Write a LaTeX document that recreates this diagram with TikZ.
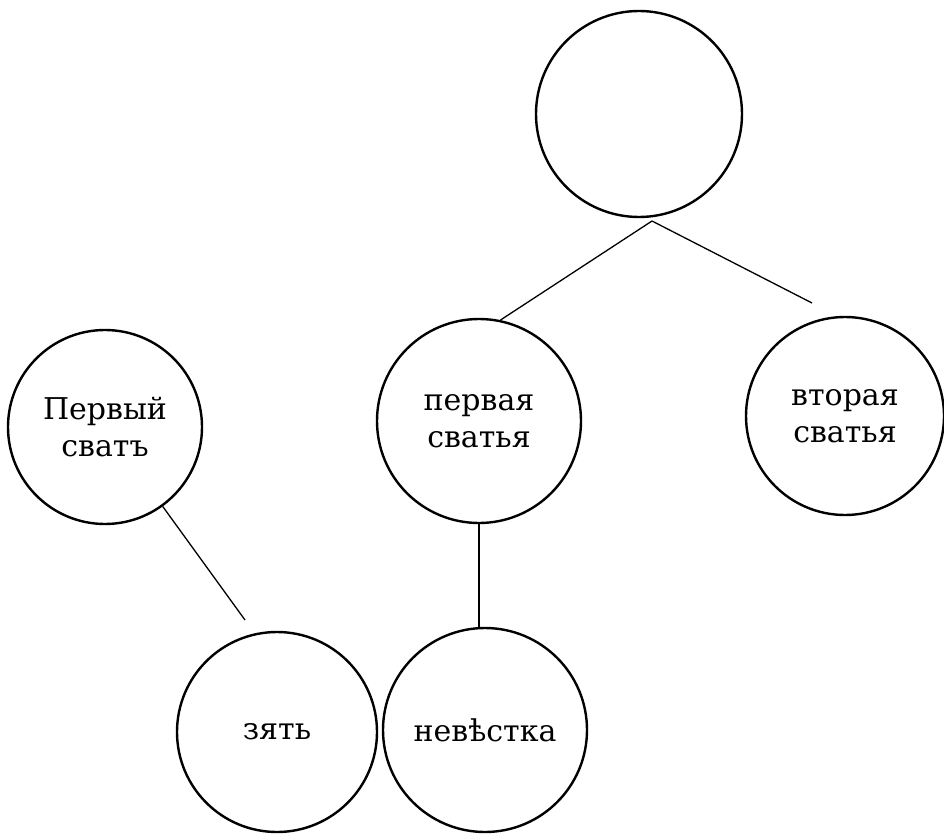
\documentclass[tikz,border=0pt]{standalone}
\usepackage{fontspec}
\setmainfont{DejaVu Serif}
\usetikzlibrary{calc}
\begin{document}
\begin{tikzpicture}[x=1pt,y=-1pt,
  person/.style={circle,draw,line width=2.4pt,minimum size=#1,inner sep=0pt,align=center,
    font=\fontsize{30}{37}\selectfont},
  link/.style={line width=1.3pt}]
\useasboundingbox[fill=white] (0,0) rectangle (944,834);
\node[person=206] (top) at (639,114) {};
\node[person=194] (pervyi) at (105,427) {Первый\\сватъ};
\node[person=204] (perv) at (479,421) {первая\\сватья};
\node[person=198] (vtor) at (845,416) {вторая\\сватья};
\node[person=200] (zyat) at (277,732) {зять};
\node[person=204] (nev) at (485,730) {невѣстка};
\coordinate (apex) at (652,221);
\coordinate (vtorend) at (812,303);
\coordinate (zyatend) at (245,620);
\draw[link] (apex) -- (perv.78);
\draw[link] (apex) -- (vtorend);
\draw[link] (pervyi.-54) -- (zyatend);
\draw[link] (perv.south) -- (perv.south |- nev.north);
\end{tikzpicture}
\end{document}
